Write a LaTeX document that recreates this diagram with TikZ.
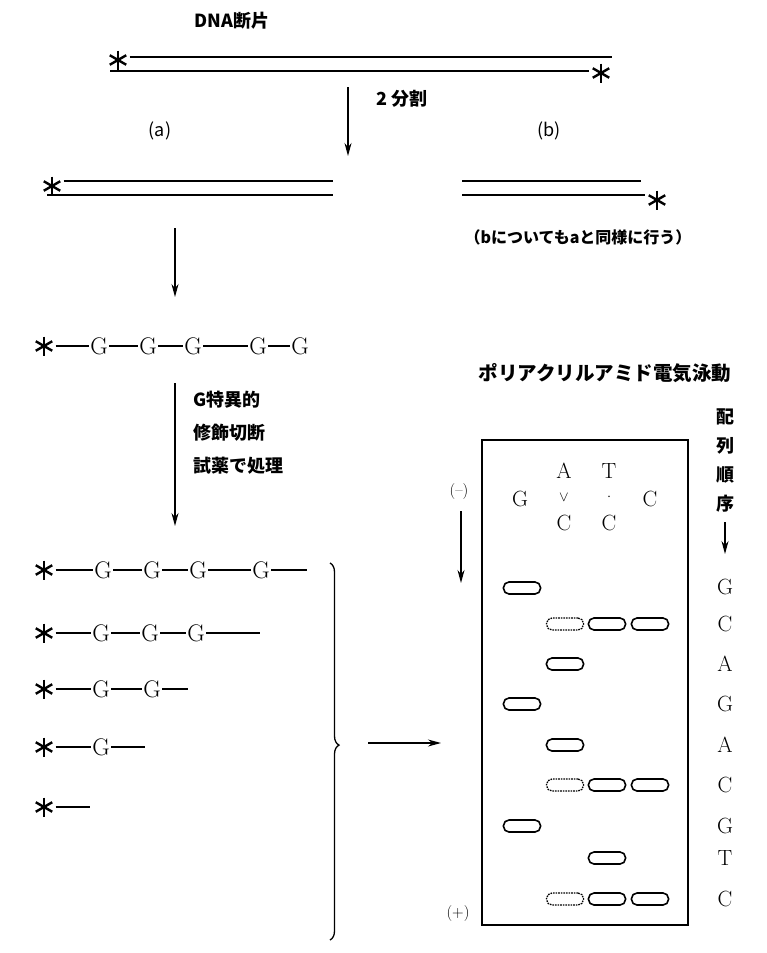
\documentclass[tikz,border=0pt]{standalone}
\usepackage{fontspec}
\newfontfamily\jp{Noto Sans CJK JP}
\usetikzlibrary{arrows.meta, decorations.pathreplacing, positioning}
\tikzset{
    jptext/.style={font=\jp\bfseries\fontsize{18}{22}\selectfont, inner sep=0pt},
    base/.style={font=\fontsize{24}{24}\selectfont, inner sep=1.5pt},
    bond/.style={line width=1.3pt},
    strand/.style={line width=1.6pt},
    flow/.style={line width=1.2pt, -{Stealth[length=13pt, width=7pt]}},
    band/.style={draw, line width=1.6pt, rounded corners=5.5pt,
        minimum width=37pt, minimum height=12pt, inner sep=0pt},
    faintband/.style={band, densely dotted, line width=1.3pt},
    star/.style={circle, minimum size=23pt, inner sep=0pt, path picture={
        \foreach \a in {90, 30, 150}
            \draw[line width=2.4pt] ([shift={(\a:9.5pt)}]path picture bounding box.center)
                -- ([shift={(\a+180:9.5pt)}]path picture bounding box.center);
    }},
}

\begin{document}
\begin{tikzpicture}[x=1pt, y=-1pt]
    \useasboundingbox (0, 0) rectangle (766, 953);

    % whole fragment
    \node[jptext] (dna) at (232, 21) {DNA断片};
    \node[star] (s1) at (118, 60) {};
    \coordinate (t1e) at (612, 57);
    \draw[strand] (s1.east |- t1e) -- (t1e);
    \node[star] (s2) at (601, 73) {};
    \coordinate (b1s) at (110, 71);
    \draw[strand] (b1s) -- (s2.west |- b1s);
    \coordinate (c1) at (348, 87);
    \coordinate (c2) at (348, 156);
    \draw[flow] (c1) -- node[jptext, pos=0.17, right=28pt] {2 分割} (c2);

    % halves a and b
    \node[jptext, font=\jp\fontsize{18}{22}\selectfont] (la) at (160, 131) {(a)};
    \node[star] (sa) at (52, 186) {};
    \coordinate (ta) at (333, 181);
    \coordinate (ba) at (47, 195);
    \draw[strand] (sa.east |- ta) -- (ta);
    \draw[strand] (ba) -- (ba -| ta);
    \node[jptext, font=\jp\fontsize{18}{22}\selectfont] (lb) at (549, 131) {(b)};
    \node[star] (sb) at (657, 200) {};
    \coordinate (tb) at (462, 181);
    \draw[strand] (tb) -- ++(179, 0);
    \draw[strand] (tb |- 0, 195) -- (sb.west |- 0, 195);
    \node[jptext, font=\jp\bfseries\fontsize{16}{20}\selectfont] (note) at (578, 237)
        {（bについてもaと同様に行う）};
    \coordinate (c3) at (175, 228);
    \coordinate (c4) at (175, 297);
    \draw[flow] (c3) -- (c4);

    % labelled strand
    \node[star] (r0s) at (44, 346) {};
    \foreach \x [count=\i] in {99, 148, 193, 258, 300}
        \node[base] (r0g\i) at (\x, 346) {G};
    \draw[bond] (r0s) -- (r0g1) (r0g1) -- (r0g2) (r0g2) -- (r0g3)
        (r0g3) -- (r0g4) (r0g4) -- (r0g5);
    \coordinate (c5) at (175, 383);
    \coordinate (c6) at (175, 526);
    \draw[flow] (c5) -- (c6);
    \node[jptext, anchor=north west, align=left, font=\jp\bfseries\fontsize{18}{33}\selectfont]
        (reagent) at (193, 391) {G特異的\\修飾切断\\試薬で処理};

    % cleaved fragments
    \begin{scope}[every node/.style={base}]
        \node[star] (f1s) at (44, 570) {};
        \node (f1a) at (103, 570) {G};
        \node (f1b) at (152, 570) {G};
        \node (f1c) at (198, 570) {G};
        \node (f1d) at (261, 570) {G};
        \coordinate (f1e) at (307, 570);
        \draw[bond] (f1s) -- (f1a) -- (f1b) -- (f1c) -- (f1d) -- (f1e);
        \node[star] (f2s) at (44, 633) {};
        \node (f2a) at (101, 633) {G};
        \node (f2b) at (150, 633) {G};
        \node (f2c) at (196, 633) {G};
        \coordinate (f2e) at (260, 633);
        \draw[bond] (f2s) -- (f2a) -- (f2b) -- (f2c) -- (f2e);
        \node[star] (f3s) at (44, 689) {};
        \node (f3a) at (101, 689) {G};
        \node (f3b) at (152, 689) {G};
        \coordinate (f3e) at (188, 689);
        \draw[bond] (f3s) -- (f3a) -- (f3b) -- (f3e);
        \node[star] (f4s) at (44, 747) {};
        \node (f4a) at (101, 747) {G};
        \coordinate (f4e) at (145, 747);
        \draw[bond] (f4s) -- (f4a) -- (f4e);
        \node[star] (f5s) at (44, 807) {};
        \coordinate (f5e) at (90, 807);
        \draw[bond] (f5s) -- (f5e);
    \end{scope}
    \draw[line width=1.3pt, decorate, decoration={brace, amplitude=9pt, aspect=0.483}]
        (330, 563) -- (330, 940);
    \coordinate (c7) at (368, 743);
    \coordinate (c8) at (441, 743);
    \draw[flow] (c7) -- (c8);

    % gel
    \node[jptext, font=\jp\bfseries\fontsize{19.5}{22}\selectfont] (title) at (605, 373)
        {ポリアクリルアミド電気泳動};
    \node[draw, line width=1.5pt, minimum width=206pt, minimum height=485pt,
        inner sep=0pt] (gel) at (585, 682.5) {};
    \begin{scope}[every node/.style={inner sep=0pt, font=\fontsize{22}{22}\selectfont}]
        \node (lane1) at (520, 499) {G};
        \node (lane2a) at (564, 471) {A};
        \node[font=\fontsize{15}{15}\selectfont] (lane2b) at (564, 497) {$\vee$};
        \node (lane2c) at (564, 523) {C};
        \node (lane3a) at (609, 471) {T};
        \node[font=\fontsize{15}{15}\selectfont] (lane3b) at (609, 497) {$\cdot$};
        \node (lane3c) at (609, 523) {C};
        \node (lane4) at (650, 499) {C};
    \end{scope}
    \node[font=\fontsize{16}{16}\selectfont] (minus) at (459, 492) {(--)};
    \node[font=\fontsize{16}{16}\selectfont] (plus) at (458, 913) {(+)};
    \coordinate (c9) at (461, 511);
    \coordinate (c10) at (461, 583);
    \draw[flow] (c9) -- (c10);
    \foreach \x/\y [count=\i] in {522/588, 522/704, 522/826, 565/664, 565/745,
        607/624, 607/785, 607/858, 607/899, 650/624, 650/785, 650/899}
        \node[band] (band\i) at (\x, \y) {};
    \foreach \y [count=\i] in {624, 785, 899}
        \node[faintband] (faint\i) at (565, \y) {};

    % reading order
    \node[jptext, align=center, font=\jp\bfseries\fontsize{18}{29}\selectfont] (order)
        at (725, 461) {配\\列\\順\\序};
    \coordinate (c11) at (725, 522);
    \coordinate (c12) at (725, 554);
    \draw[flow] (c11) -- (c12);
    \foreach \l/\y [count=\i] in {G/587, C/624, A/664, G/704, A/745, C/785,
        G/826, T/858, C/899}
        \node[base, font=\fontsize{22}{22}\selectfont] (seq\i) at (725, \y) {\l};
\end{tikzpicture}
\end{document}
